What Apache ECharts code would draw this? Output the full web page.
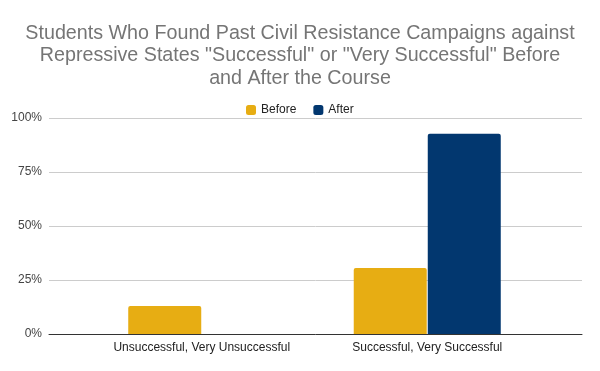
<!DOCTYPE html>
<html><head><meta charset="utf-8">
<script src="https://cdn.jsdelivr.net/npm/echarts@6/dist/echarts.min.js"></script>
<style>html,body{margin:0;padding:0;background:#fff}#c{width:600px;height:371px}</style>
</head><body><div id="c"></div>
<script>
const titleText = 'Students Who Found Past Civil Resistance Campaigns against\nRepressive States "Successful" or "Very Successful" Before\nand After the Course';
const categories = ['Unsuccessful, Very Unsuccessful', 'Successful, Very Successful'];
const seriesNames = ['Before', 'After'];
const beforeValues = [0.13, 0.306];
const afterValues = [0, 0.927];
const yTicks = [0, 0.25, 0.5, 0.75, 1];
const colors = ['#E7AD13', '#02376F'];
const font = 'Liberation Sans, Arial, sans-serif';

const chart = echarts.init(document.getElementById('c'), null, {renderer: 'canvas'});
chart.setOption({
  animation: false,
  backgroundColor: '#fff',
  title: {
    text: titleText, left: 'center', top: 17,
    textStyle: {fontFamily: font, fontSize: 19.7, fontWeight: 'normal', color: '#757575', lineHeight: 22.7}
  },
  legend: {
    data: seriesNames, left: 241, top: 99, itemWidth: 10, itemHeight: 10, itemGap: 17,
    icon: 'roundRect',
    textStyle: {fontFamily: font, fontSize: 12, color: '#222'}
  },
  grid: [
    {left: 49, right: 18, top: 118, bottom: 37},
    {left: 89, right: 60, top: 118, bottom: 37}
  ],
  xAxis: [
    {gridIndex: 0, type: 'value', min: 0, max: 1, axisLabel: {show: false}, axisTick: {show: false},
      splitLine: {show: false}, axisLine: {show: true, onZero: false, lineStyle: {color: '#333', width: 1}}},
    {gridIndex: 1, type: 'category', data: categories, axisLine: {show: false}, axisTick: {show: false},
      axisLabel: {fontFamily: font, fontSize: 12, color: '#222', margin: 8, interval: 0}}
  ],
  yAxis: [
    {gridIndex: 0, type: 'value', min: 0, max: 1, interval: 0.25,
      axisLine: {show: false}, axisTick: {show: false},
      splitLine: {lineStyle: {color: '#cccccc', width: 1}},
      axisLabel: {fontFamily: font, fontSize: 12, color: '#444', margin: 7,
        formatter: v => yTicks.includes(v) ? Math.round(v * 100) + '%' : ''}},
    {gridIndex: 1, type: 'value', min: 0, max: 1, show: false, splitLine: {show: false}}
  ],
  series: [
    {name: seriesNames[0], type: 'bar', xAxisIndex: 1, yAxisIndex: 1, data: beforeValues,
      barWidth: 73, barGap: '1.4%', itemStyle: {color: colors[0], borderRadius: [2,2,0,0]}},
    {name: seriesNames[1], type: 'bar', xAxisIndex: 1, yAxisIndex: 1, data: afterValues,
      barWidth: 73, barGap: '1.4%', itemStyle: {color: colors[1], borderRadius: [2,2,0,0]}}
  ]
});
</script></body></html>
